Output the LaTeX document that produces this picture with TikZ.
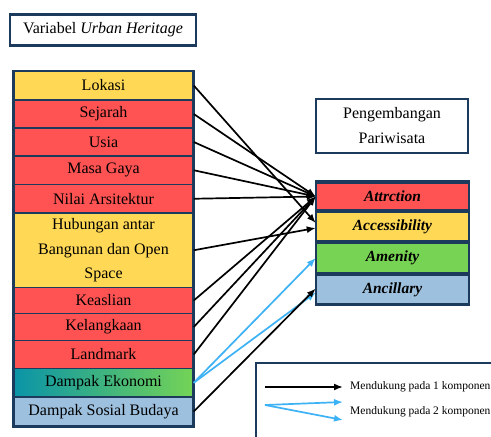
\documentclass[tikz,border=0pt]{standalone}
\usepackage{fontspec}
\setmainfont{Liberation Serif}
\usetikzlibrary{arrows.meta}
\definecolor{navy}{HTML}{1B3A5C}
\definecolor{cyel}{HTML}{FFD955}
\definecolor{cred}{HTML}{FF5353}
\definecolor{cgrn}{HTML}{77D353}
\definecolor{cblu}{HTML}{9DC0DE}
\definecolor{ekoL}{HTML}{0A94A8}
\definecolor{ekoR}{HTML}{74D356}
\definecolor{skyb}{HTML}{3DB2F5}
\tikzset{
  vbox/.style={draw=navy, line width=1.5pt, minimum width=179pt, inner sep=0pt, align=center,
    font=\fontsize{16}{24.5}\selectfont},
  rbox/.style={draw=navy, line width=1.5pt, minimum width=152pt, inner sep=0pt, align=center,
    font=\fontsize{15.5}{20}\selectfont\bfseries\itshape},
  hbox/.style={draw=navy, line width=2.2pt, fill=white, inner sep=0pt, align=center,
    font=\fontsize{16}{25}\selectfont},
  arr/.style={line width=1.7pt, -{Latex[length=9pt,width=7pt]}},
  barr/.style={arr, draw=skyb},
  legtext/.style={anchor=west, inner sep=0pt, font=\fontsize{11.5}{14}\selectfont}
}
\begin{document}
\begin{tikzpicture}[x=1pt,y=-1pt]
\useasboundingbox (0,0) rectangle (491,437);
\clip (0,0) rectangle (491,437);
\fill[white] (0,0) rectangle (491,437);

% title
\node[hbox, minimum width=186pt, minimum height=31pt] (title) at (103,30) {Variabel \textit{Urban Heritage}};

% left column
\draw[navy, line width=2pt] (13,71) rectangle (194,427);
\node[vbox, fill=cyel, minimum height=29pt] (lok) at (103.5,85.5) {Lokasi};
\node[vbox, fill=cred, minimum height=28pt] (sej) at (103.5,114) {Sejarah};
\node[vbox, fill=cred, minimum height=28pt] (usi) at (103.5,142) {Usia};
\node[vbox, fill=cred, minimum height=28.5pt] (mas) at (103.5,170.25) {Masa Gaya};
\node[vbox, fill=cred, minimum height=28.5pt] (nil) at (103.5,198.75) {Nilai Arsitektur};
\node[vbox, fill=cyel, minimum height=74.5pt] (hub) at (103.5,250.25) {Hubungan antar\\Bangunan dan Open\\Space};
\node[vbox, fill=cred, minimum height=26pt] (kea) at (103.5,300.5) {Keaslian};
\node[vbox, fill=cred, minimum height=27pt] (kel) at (103.5,327) {Kelangkaan};
\node[vbox, fill=cred, minimum height=28pt] (lan) at (103.5,354.5) {Landmark};
\node[vbox, left color=ekoL, right color=ekoR, minimum height=28.5pt] (eko) at (103.5,382.75) {Dampak Ekonomi};
\node[vbox, fill=cblu, minimum height=29pt] (sos) at (103.5,411.5) {Dampak Sosial Budaya};

% right side
\node[hbox, minimum width=152pt, minimum height=54pt] (peng) at (392,126) {Pengembangan\\Pariwisata};
\fill[navy] (315,180) rectangle (470,306);
\node[rbox, fill=cred, minimum height=27pt] (att) at (392.5,196.5) {Attrction};
\node[rbox, fill=cyel, minimum height=28pt] (acc) at (392.5,226.5) {Accessibility};
\node[rbox, fill=cgrn, minimum height=29pt] (ame) at (392.5,258) {Amenity};
\node[rbox, fill=cblu, minimum height=28pt] (anc) at (392.5,289.5) {Ancillary};

% arrows
\draw[arr] (sej.east) -- (att.west);
\draw[arr] (usi.east) -- (att.west);
\draw[arr] (mas.east) -- (att.west);
\draw[arr] (nil.east) -- (att.west);
\draw[arr] (kea.east) -- (att.west);
\draw[arr] (kel.east) -- (att.west);
\draw[arr] (lan.east) -- (att.west);
\draw[arr] (lok.east) -- ([yshift=3.5pt]acc.west);
\draw[arr] (hub.east) -- ([yshift=-1.5pt]acc.west);
\draw[barr] (eko.east) -- (ame.west);
\draw[barr] (eko.east) -- ([yshift=-3pt]anc.west);
\draw[arr] (sos.east) -- ([yshift=1pt]anc.west);

% legend
\node[draw=navy, line width=2pt, fill=white, minimum width=250pt, minimum height=90pt, anchor=north west] (leg) at (255,362) {};
\coordinate (l1a) at (265,387);
\coordinate (l1b) at (343,387);
\coordinate (l2a) at (265,405);
\coordinate (l2b) at (343,402);
\coordinate (l2c) at (343,420);
\draw[arr] (l1a) -- (l1b);
\draw[barr] (l2a) -- (l2b);
\draw[barr] (l2a) -- (l2c);
\node[legtext] (t1) at (350,387) {Mendukung pada 1 komponen};
\node[legtext] (t2) at (350,412) {Mendukung pada 2 komponen};
\end{tikzpicture}
\end{document}
